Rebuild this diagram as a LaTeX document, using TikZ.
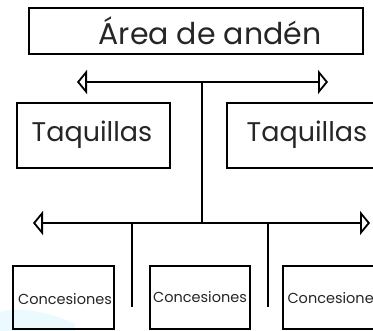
\documentclass[tikz,border=0pt]{standalone}
\usepackage{fontspec}
\setmainfont{Poppins}
\usetikzlibrary{arrows.meta}
\begin{document}
\begin{tikzpicture}[x=1pt,y=-1pt,
  box/.style={draw=black,line width=1.8pt},
  conn/.style={draw=black,line width=1.8pt},
  dbl/.style={conn,{Triangle[open,length=10pt,width=24pt,line width=1.8pt]}-{Triangle[open,length=10pt,width=24pt,line width=1.8pt]}},
  big/.style={font=\fontsize{27}{30}\selectfont,text=black!85},
  huge/.style={font=\fontsize{30}{34}\selectfont,text=black!85},
  small/.style={font=\fontsize{14.5}{16}\selectfont,text=black!85}]
\useasboundingbox (0,0) rectangle (373,331);
\clip (0,0) rectangle (373,331);
\fill[white] (0,0) rectangle (373,331);
% faint blue swoosh
\fill[blue!20!cyan!15,opacity=0.5] (0,312) .. controls (20,306) and (50,312) .. (75,324) -- (75,331) -- (0,331) -- cycle;
% boxes
\draw[box] (29,8) rectangle (363,54);
\node[huge,anchor=center] (area) at (210,31) {Área de andén};
\draw[box] (17,103) rectangle (170,168);
\node[big] (taq1) at (92,135) {Taquillas};
\draw[box] (227,103) rectangle (383,168);
\node[big] (taq2) at (307,135) {Taquillas};
\draw[box] (13,266) rectangle (114,329);
\node[small] (con1) at (65,299) {Concesiones};
\draw[box] (150,266) rectangle (250,329);
\node[small] (con2) at (200,297) {Concesiones};
\draw[box] (283,266) rectangle (390,329);
\node[small,anchor=west] (con3) at (284,298) {Concesiones};
% connectors
\coordinate (ul) at (77,82);
\coordinate (ur) at (328,82);
\coordinate (um) at (202,82);
\coordinate (ll) at (33,223);
\coordinate (lr) at (370,223);
\coordinate (lm) at (202,223);
\coordinate (d1t) at (132,223);
\coordinate (d1b) at (132,307);
\coordinate (d2t) at (268,223);
\coordinate (d2b) at (268,307);
\draw[dbl] (ul) -- (ur);
\draw[dbl] (ll) -- (lr);
\draw[conn] (um) -- (lm);
\draw[conn] (d1t) -- (d1b);
\draw[conn] (d2t) -- (d2b);
\end{tikzpicture}
\end{document}
